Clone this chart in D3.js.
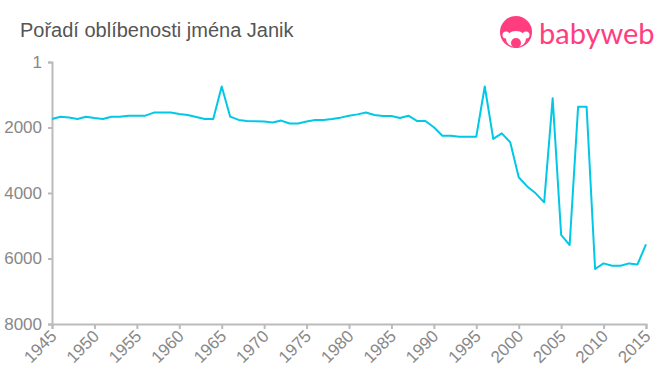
<!DOCTYPE html>
<html>
<head>
<meta charset="utf-8">
<script src="https://cdn.jsdelivr.net/npm/d3@7"></script>
<style>
  body { margin: 0; background: #fff; }
  svg { display: block; font-family: "Liberation Sans", Arial, sans-serif; }
</style>
</head>
<body>
<div id="chart"></div>
<script>
const years = d3.range(1945, 2016)
const ranks = [
  1740, 1670, 1695, 1740, 1670, 1710, 1740, 1670, 1670, 1640,
  1640, 1640, 1545, 1545, 1545, 1590, 1620, 1680, 1740, 1740,
  750, 1670, 1770, 1800, 1810, 1820, 1850, 1790, 1880, 1880,
  1820, 1770, 1770, 1740, 1700, 1640, 1600, 1545, 1620, 1650,
  1650, 1710, 1640, 1800, 1800, 1995, 2250, 2250, 2280, 2280,
  2280, 750, 2350, 2180, 2450, 3520, 3800, 4010, 4285, 1110,
  5280, 5590, 1365, 1365, 6320, 6150, 6220, 6220, 6150, 6180,
  5570
]
const yTicks = [1, 2000, 4000, 6000, 8000]
const xTicks = d3.range(1945, 2016, 5)

const width = 660
const height = 375
const margin = { top: 62, right: 14, bottom: 51, left: 52 }

const svg = d3.select("#chart")
  .append("svg")
  .attr("width", width)
  .attr("height", height)

const x = d3.scaleLinear()
  .domain([1945, 2015])
  .range([margin.left, width - margin.right])

const y = d3.scaleLinear()
  .domain([1, 8000])
  .range([margin.top, height - margin.bottom])

// Title
svg.append("text")
  .attr("x", 20)
  .attr("y", 37)
  .attr("fill", "#555")
  .attr("font-size", "20px")
  .text("Pořadí oblíbenosti jména Janik")

// Axes
const axisColor = "#bbb"
const labelColor = "#888"

const yAxis = svg.append("g")
  .attr("transform", `translate(${margin.left},0)`)
  .call(d3.axisLeft(y).tickValues(yTicks).tickSize(4).tickPadding(6).tickFormat(d3.format("d")))
yAxis.select(".domain").attr("stroke", axisColor).attr("stroke-width", 2)
yAxis.selectAll(".tick line").attr("stroke", axisColor).attr("stroke-width", 2)
yAxis.selectAll(".tick text")
  .attr("fill", labelColor)
  .attr("font-size", "17px")
  .attr("font-family", "Liberation Sans, Arial, sans-serif")

const xAxis = svg.append("g")
  .attr("transform", `translate(0,${height - margin.bottom})`)
  .call(d3.axisBottom(x).tickValues(xTicks).tickSize(5).tickFormat(d3.format("d")))
xAxis.select(".domain").attr("stroke", axisColor).attr("stroke-width", 2)
xAxis.selectAll(".tick line").attr("stroke", axisColor).attr("stroke-width", 2)
xAxis.selectAll(".tick text")
  .attr("fill", labelColor)
  .attr("font-size", "17px")
  .attr("font-family", "Liberation Sans, Arial, sans-serif")
  .attr("text-anchor", "end")
  .attr("x", 0)
  .attr("y", 0)
  .attr("dy", "0.35em")
  .attr("transform", "translate(1,9) rotate(-45)")

// Line
const line = d3.line()
  .x((d, i) => x(years[i]))
  .y(d => y(d))

svg.append("path")
  .datum(ranks)
  .attr("fill", "none")
  .attr("stroke", "#00c8e6")
  .attr("stroke-width", 2)
  .attr("stroke-linejoin", "round")
  .attr("d", line)

// Logo
const pink = "#ff3d7f"
const logo = svg.append("g").attr("transform", "translate(516,32)")
logo.append("circle").attr("r", 16).attr("fill", pink)
logo.append("ellipse").attr("cx", 0).attr("cy", 7).attr("rx", 10).attr("ry", 8).attr("fill", "#fff")
logo.append("circle").attr("cx", -10).attr("cy", 3).attr("r", 3.5).attr("fill", "#fff")
logo.append("circle").attr("cx", 10).attr("cy", 3).attr("r", 3.5).attr("fill", "#fff")
logo.append("circle").attr("cx", 0).attr("cy", 11).attr("r", 5).attr("fill", pink)
svg.append("text")
  .attr("x", 539)
  .attr("y", 44)
  .attr("fill", pink)
  .attr("font-size", "29px")
  .attr("font-family", "Lato, Roboto, sans-serif")
  .text("babyweb")
</script>
</body>
</html>
